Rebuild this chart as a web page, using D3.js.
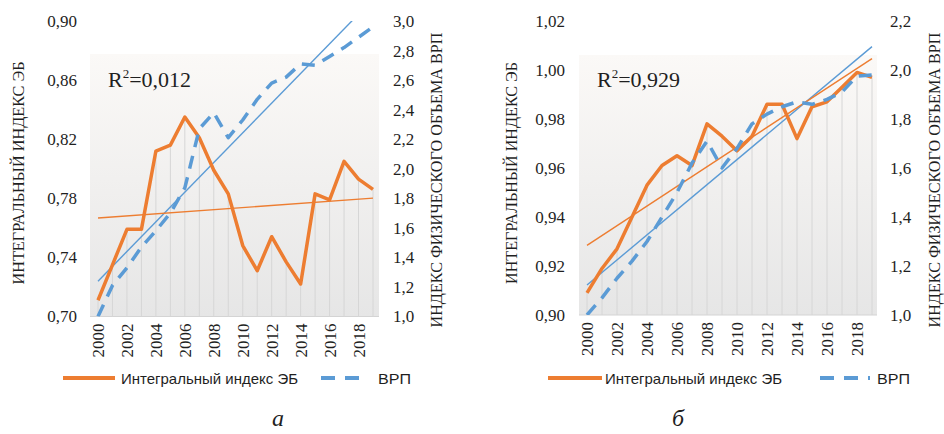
<!DOCTYPE html>
<html><head><meta charset="utf-8">
<script src="https://cdn.jsdelivr.net/npm/d3@7"></script>
<style>html,body{margin:0;padding:0;background:#fff;} svg{display:block;}</style>
</head><body><svg id="c" width="944" height="434"></svg>
<script>
// ---------- DATA ----------
const years = [2000,2001,2002,2003,2004,2005,2006,2007,2008,2009,2010,2011,2012,2013,2014,2015,2016,2017,2018,2019];
const yearTicks = [2000,2002,2004,2006,2008,2010,2012,2014,2016,2018];
// panel a
const ebA  = [0.711,0.735,0.759,0.759,0.812,0.816,0.835,0.821,0.799,0.783,0.748,0.731,0.754,0.737,0.722,0.783,0.779,0.805,0.793,0.786];
const grpA = [1.00,1.21,1.33,1.47,1.58,1.70,1.87,2.27,2.38,2.21,2.33,2.47,2.58,2.62,2.71,2.70,2.76,2.82,2.89,2.96];
// panel b
const ebB  = [0.909,0.919,0.927,0.940,0.953,0.961,0.965,0.961,0.978,0.973,0.967,0.973,0.986,0.986,0.972,0.985,0.987,0.993,0.999,0.997];
const grpB = [1.00,1.07,1.15,1.22,1.30,1.40,1.50,1.62,1.71,1.60,1.68,1.78,1.82,1.85,1.87,1.86,1.88,1.91,1.975,1.98];
const leftTicksA  = [0.70,0.74,0.78,0.82,0.86,0.90];
const rightTicksA = [1.0,1.2,1.4,1.6,1.8,2.0,2.2,2.4,2.6,2.8,3.0];
const leftTicksB  = [0.90,0.92,0.94,0.96,0.98,1.00,1.02];
const rightTicksB = [1.0,1.2,1.4,1.6,1.8,2.0,2.2];
const r2Values = ["0,012","0,929"];
const seriesNames = ["Интегральный индекс ЭБ","ВРП"];
const leftTitle = "ИНТЕГРАЛЬНЫЙ ИНДЕКС ЭБ";
const rightTitle = "ИНДЕКС ФИЗИЧЕСКОГО ОБЪЕМА ВРП";
const captions = ["а","б"];

// ---------- DRAW ----------
const ORANGE = "#ed7d31", BLUE = "#5b9bd5", TXT = "#1f1f1f";
const SERIF = "'Liberation Serif','DejaVu Serif',serif";
const loc = d3.formatLocale({decimal:",", thousands:" ", grouping:[3], currency:["",""]});
const svg = d3.select("#c");

const defs = svg.append("defs");
const grad = defs.append("linearGradient").attr("id","bg").attr("x1",0).attr("y1",0).attr("x2",0).attr("y2",1);
grad.append("stop").attr("offset","0%").attr("stop-color","#fbf9f7");
grad.append("stop").attr("offset","100%").attr("stop-color","#e6e6e6");

function regression(xs, ys){
  const n = xs.length, mx = d3.mean(xs), my = d3.mean(ys);
  let sxy=0, sxx=0;
  for(let i=0;i<n;i++){ sxy += (xs[i]-mx)*(ys[i]-my); sxx += (xs[i]-mx)**2; }
  const b = sxy/sxx, a = my - b*mx;
  return x => a + b*x;
}

function fitLen(sel, len){ sel.attr("textLength", len).attr("lengthAdjust","spacingAndGlyphs"); }

function panel(cfg, idx){
  const g = svg.append("g");
  const x = d3.scaleLinear().domain([years[0], years[years.length-1]]).range([cfg.x0, cfg.x1]);
  const yL = d3.scaleLinear().domain([cfg.leftTicks[0], cfg.leftTicks[cfg.leftTicks.length-1]]).range([cfg.yBot, cfg.yTop]);
  const yR = d3.scaleLinear().domain([cfg.rightTicks[0], cfg.rightTicks[cfg.rightTicks.length-1]]).range([cfg.yBot, cfg.yTop]);

  // background
  g.append("rect").attr("x",cfg.bgX).attr("y",cfg.bgY).attr("width",cfg.bgW).attr("height",cfg.yBot-cfg.bgY).attr("fill","url(#bg)");
  g.append("line").attr("x1",cfg.bgX).attr("x2",cfg.bgX+cfg.bgW).attr("y1",cfg.yBot).attr("y2",cfg.yBot).attr("stroke","#d4d4d4").attr("stroke-width",1);

  // drop lines
  g.selectAll(".drop").data(years).join("line")
    .attr("x1",d=>x(d)).attr("x2",d=>x(d))
    .attr("y1",(d,i)=>yL(cfg.eb[i])).attr("y2",cfg.yBot)
    .attr("stroke","#d6d6d6").attr("stroke-width",1);

  // axis labels
  const fL = loc.format(".2f"), fR = loc.format(".1f");
  g.selectAll(".tl").data(cfg.leftTicks).join("text")
    .attr("x",cfg.leftLabelX).attr("y",d=>yL(d)).attr("dy","0.35em")
    .attr("text-anchor","end").attr("font-family",SERIF).attr("font-size",17).attr("fill",TXT)
    .text(d=>fL(d));
  g.selectAll(".tr").data(cfg.rightTicks).join("text")
    .attr("x",cfg.rightLabelX).attr("y",d=>yR(d)).attr("dy","0.35em")
    .attr("text-anchor","start").attr("font-family",SERIF).attr("font-size",17).attr("fill",TXT)
    .text(d=>fR(d));
  g.selectAll(".ty").data(yearTicks).join("text")
    .attr("transform",d=>`translate(${x(d)+6},${cfg.yBot+7}) rotate(-90)`)
    .attr("text-anchor","end").attr("font-family",SERIF).attr("font-size",17).attr("fill",TXT)
    .text(d=>d);

  // axis titles
  const lt = g.append("text").attr("transform",`translate(${cfg.leftTitleX},${cfg.leftTitleC}) rotate(-90)`)
    .attr("text-anchor","middle").attr("font-family",SERIF).attr("font-size",16).attr("fill",TXT).text(leftTitle);
  fitLen(lt, cfg.leftTitleLen);
  const rt = g.append("text").attr("transform",`translate(${cfg.rightTitleX},${cfg.rightTitleC}) rotate(-90)`)
    .attr("text-anchor","middle").attr("font-family",SERIF).attr("font-size",16).attr("fill",TXT).text(rightTitle);
  fitLen(rt, cfg.rightTitleLen);

  // clip
  const cid = "clip"+idx;
  defs.append("clipPath").attr("id",cid).append("rect")
    .attr("x",0).attr("y",cfg.yTop).attr("width",944).attr("height",cfg.yBot-cfg.yTop);
  const pg = g.append("g").attr("clip-path",`url(#${cid})`);

  // trend lines
  const tEb = regression(years, cfg.eb), tGrp = regression(years, cfg.grp);
  const ends = [years[0], years[years.length-1]];
  pg.append("path").attr("d", d3.line().x(d=>x(d)).y(d=>yR(tGrp(d)))(ends))
    .attr("fill","none").attr("stroke",BLUE).attr("stroke-width",1.4);
  pg.append("path").attr("d", d3.line().x(d=>x(d)).y(d=>yL(tEb(d)))(ends))
    .attr("fill","none").attr("stroke",ORANGE).attr("stroke-width",1.4);

  // data lines
  pg.append("path").attr("d", d3.line().x((d,i)=>x(years[i])).y(d=>yL(d))(cfg.eb))
    .attr("fill","none").attr("stroke",ORANGE).attr("stroke-width",3.5).attr("stroke-linejoin","round");
  pg.append("path").attr("d", d3.line().x((d,i)=>x(years[i])).y(d=>yR(d))(cfg.grp))
    .attr("fill","none").attr("stroke",BLUE).attr("stroke-width",3.5).attr("stroke-dasharray","13,9").attr("stroke-linejoin","round");

  // R2
  const r = g.append("text").attr("x",cfg.r2x).attr("y",87).attr("font-family",SERIF).attr("font-size",22).attr("fill",TXT);
  r.append("tspan").text("R");
  r.append("tspan").attr("font-size",13).attr("dy",-9).text("2");
  r.append("tspan").attr("dy",9).text("="+r2Values[idx]);

  // legend
  const ly = 378;
  const LF = "'Liberation Sans Narrow','Liberation Sans',sans-serif";
  g.append("line").attr("x1",cfg.lgO0).attr("x2",cfg.lgO1).attr("y1",ly).attr("y2",ly).attr("stroke",ORANGE).attr("stroke-width",4);
  const t1 = g.append("text").attr("x",cfg.lgT1).attr("y",ly+6).attr("font-family",LF)
    .attr("font-size",15).attr("fill",TXT).text(seriesNames[0]);
  fitLen(t1, 177);
  g.append("line").attr("x1",cfg.lgB0).attr("x2",cfg.lgB1).attr("y1",ly).attr("y2",ly).attr("stroke",BLUE).attr("stroke-width",4).attr("stroke-dasharray","14,10");
  const t2 = g.append("text").attr("x",cfg.lgT2).attr("y",ly+6).attr("font-family",LF)
    .attr("font-size",15).attr("fill",TXT).text(seriesNames[1]);
  fitLen(t2, 33);

  // caption
  g.append("text").attr("x",cfg.capX).attr("y",426).attr("text-anchor","middle").attr("font-family",SERIF)
    .attr("font-style","italic").attr("font-size",24).attr("fill",TXT).text(captions[idx]);
}

panel({eb:ebA, grp:grpA, leftTicks:leftTicksA, rightTicks:rightTicksA,
  x0:98, x1:373, yTop:21, yBot:316.5, bgX:90, bgW:289, bgY:54,
  leftLabelX:77, rightLabelX:393, leftTitleX:24, leftTitleC:173, leftTitleLen:223,
  rightTitleX:442, rightTitleC:180, rightTitleLen:295, r2x:108,
  lgO0:63, lgO1:115, lgT1:121, lgB0:321, lgB1:369, lgT2:378, capX:278}, 0);

panel({eb:ebB, grp:grpB, leftTicks:leftTicksB, rightTicks:rightTicksB,
  x0:587, x1:872, yTop:21, yBot:315, bgX:579, bgW:298, bgY:55,
  leftLabelX:565, rightLabelX:890, leftTitleX:517, leftTitleC:173, leftTitleLen:222,
  rightTitleX:940, rightTitleC:180, rightTitleLen:295, r2x:597,
  lgO0:548, lgO1:602, lgT1:605, lgB0:820, lgB1:870, lgT2:877, capX:678}, 1);
</script></body></html>
